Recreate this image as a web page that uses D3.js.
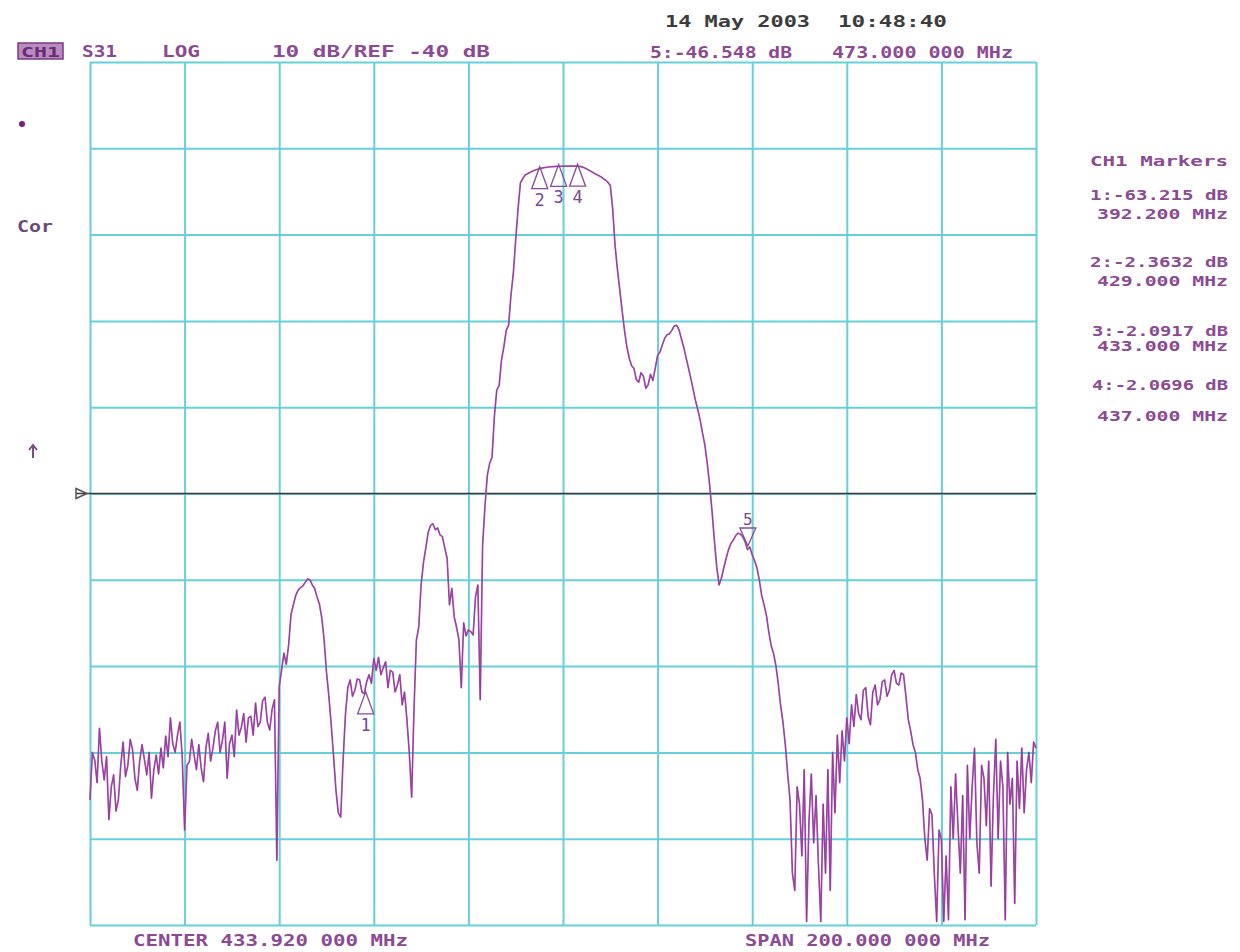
<!DOCTYPE html>
<html>
<head>
<meta charset="utf-8">
<script src="https://cdn.jsdelivr.net/npm/d3@7"></script>
<style>
html,body{margin:0;padding:0;background:#fff;}
svg{display:block;}
text{font-family:"DejaVu Sans Mono","Liberation Mono",monospace;font-weight:bold;}
</style>
</head>
<body>
<svg id="chart" width="1240" height="952"></svg>
<script>
// ---- instrument settings ----
const centerMHz = 433.92;
const spanMHz = 200;
const refLevelDb = -40;
const dbPerDiv = 10;
const xDivisions = [0,1,2,3,4,5,6,7,8,9,10];
const yDivisions = [0,1,2,3,4,5,6,7,8,9,10];
const sweepStepMHz = 0.5;   // 401-point sweep

// ---- trace (S31, dB), one value per sweep point from start to stop ----
const traceDb = [
 -75.5,-70.0,-70.9,-73.5,-67.2,-71.0,-73.2,-70.5,-77.8,-74.0,
 -72.6,-76.8,-75.5,-71.5,-68.8,-72.8,-71.5,-68.5,-69.7,-73.0,
 -74.4,-71.0,-69.1,-70.8,-72.6,-70.0,-75.3,-72.0,-70.3,-72.5,
 -69.5,-71.8,-68.1,-70.5,-66.0,-69.0,-70.0,-68.0,-66.5,-70.5,
 -79.0,-71.5,-71.1,-68.5,-70.3,-72.0,-69.1,-71.8,-73.4,-69.5,
 -67.8,-71.0,-69.5,-67.5,-66.5,-70.0,-68.6,-66.5,-73.0,-69.0,
 -68.0,-70.5,-65.1,-68.0,-67.1,-65.5,-68.8,-66.0,-65.8,-68.0,
 -64.3,-67.0,-66.5,-64.0,-63.6,-66.5,-67.4,-65.0,-63.9,-82.5,
 -62.4,-60.5,-58.5,-59.8,-57.5,-54.0,-52.9,-51.8,-51.2,-50.9,
 -50.7,-50.3,-49.9,-50.0,-50.6,-51.0,-52.0,-52.8,-54.4,-57.0,
 -60.7,-63.5,-66.8,-70.5,-74.4,-77.0,-77.5,-71.0,-65.7,-62.5,
 -61.6,-63.5,-62.8,-61.5,-61.6,-63.0,-63.2,-61.8,-61.0,-62.0,
 -59.1,-60.5,-59.0,-61.0,-60.2,-59.5,-62.5,-60.5,-60.7,-63.0,
 -62.2,-61.0,-64.5,-63.0,-66.2,-70.0,-75.2,-65.0,-57.0,-55.5,
 -50.6,-48.0,-46.3,-44.5,-43.7,-43.5,-44.2,-44.0,-44.8,-45.0,
 -46.3,-47.5,-52.9,-51.0,-54.3,-55.5,-57.0,-62.5,-55.0,-56.5,
 -55.8,-56.0,-56.4,-52.0,-50.6,-63.9,-46.0,-41.5,-37.9,-36.5,
 -35.8,-31.0,-28.0,-27.5,-24.5,-23.0,-21.1,-20.5,-17.0,-14.5,
 -10.6,-7.0,-4.0,-3.5,-3.1,-2.95,-2.8,-2.67,-2.55,-2.45,
 -2.36,-2.3,-2.25,-2.2,-2.17,-2.14,-2.12,-2.1,-2.09,-2.08,
 -2.07,-2.06,-2.06,-2.06,-2.06,-2.06,-2.07,-2.1,-2.15,-2.25,
 -2.4,-2.55,-2.7,-2.85,-3.0,-3.15,-3.3,-3.5,-3.7,-3.95,
 -4.3,-7.0,-11.2,-14.0,-16.4,-18.8,-21.1,-23.0,-24.3,-25.2,
 -25.5,-26.8,-27.1,-26.0,-26.4,-27.8,-27.4,-26.2,-26.9,-25.5,
 -24.0,-23.6,-22.8,-22.0,-21.6,-21.5,-21.1,-20.6,-20.5,-21.0,
 -22.0,-23.0,-24.2,-25.4,-26.6,-27.9,-29.2,-30.3,-31.5,-33.0,
 -34.4,-36.5,-39.0,-42.0,-45.4,-48.5,-50.6,-49.8,-48.6,-47.5,
 -46.5,-45.8,-45.4,-44.9,-44.6,-44.7,-45.0,-45.6,-46.5,-46.2,
 -47.1,-47.8,-48.6,-50.0,-51.8,-52.9,-54.1,-56.0,-57.6,-58.5,
 -59.9,-62.0,-64.5,-66.5,-69.1,-72.5,-75.5,-84.0,-86.0,-74.0,
 -76.0,-82.0,-72.0,-89.6,-78.0,-72.5,-80.5,-75.0,-83.0,-89.6,
 -76.0,-84.0,-72.0,-86.0,-70.0,-77.0,-68.0,-73.5,-67.5,-71.0,
 -66.0,-69.0,-64.5,-67.0,-63.3,-65.5,-66.2,-62.8,-62.5,-65.8,
 -66.8,-63.0,-62.2,-64.5,-63.9,-61.8,-61.6,-63.5,-62.8,-61.0,
 -60.5,-62.0,-62.2,-60.8,-61.0,-63.5,-66.2,-67.5,-69.1,-70.0,
 -72.0,-73.0,-75.5,-80.0,-82.5,-76.5,-77.2,-84.0,-89.6,-79.0,
 -80.1,-89.6,-82.0,-89.4,-74.0,-80.0,-72.5,-78.5,-84.0,-75.0,
 -89.4,-71.5,-80.0,-74.0,-69.5,-80.5,-84.0,-71.5,-73.0,-78.5,
 -71.0,-85.5,-75.0,-68.5,-80.0,-71.0,-74.0,-89.4,-70.0,-76.0,
 -73.0,-87.5,-71.0,-76.5,-69.5,-77.0,-72.0,-70.0,-73.5,-68.8,
 -69.5
];

// ---- markers ----
const markerIds = ["1","2","3","4","5"];
const markerFreqs = [392.2, 429.0, 433.0, 437.0, 473.0];
const markerDbs = [-63.215, -2.3632, -2.0917, -2.0696, -46.548];

// ---- text labels ----
const markerTable = [
  ["CH1 Markers"],
  ["1:-63.215 dB","392.200 MHz"],
  ["2:-2.3632 dB","429.000 MHz"],
  ["3:-2.0917 dB","433.000 MHz"],
  ["4:-2.0696 dB","437.000 MHz"]
];

const startMHz = centerMHz - spanMHz/2;
const stopMHz = centerMHz + spanMHz/2;
const topDb = refLevelDb + 5*dbPerDiv;
const bottomDb = refLevelDb - 5*dbPerDiv;

const L = 90, R = 1036, T = 62, B = 925;
const svg = d3.select("#chart");
const x = d3.scaleLinear().domain([startMHz, stopMHz]).range([L, R]);
const y = d3.scaleLinear().domain([bottomDb, topDb]).range([B, T]);

const gridColor = "#66d0d8";
const purple = "#8c4a94";

// grid via axes
const xTicks = xDivisions.map(d => startMHz + d*spanMHz/10);
const yTicks = yDivisions.map(d => bottomDb + d*dbPerDiv);
const gx = svg.append("g").attr("transform",`translate(0,${B})`)
  .call(d3.axisBottom(x).tickValues(xTicks).tickSize(-(B-T)).tickFormat(""));
const gy = svg.append("g").attr("transform",`translate(${L},0)`)
  .call(d3.axisLeft(y).tickValues(yTicks).tickSize(-(R-L)).tickFormat(""));
[gx,gy].forEach(g=>{
  g.select(".domain").remove();
  g.selectAll(".tick line").attr("stroke",gridColor).attr("stroke-width",2);
});

// reference line
svg.append("line").attr("x1",76).attr("x2",R).attr("y1",y(refLevelDb)).attr("y2",y(refLevelDb))
  .attr("stroke","#3a3a3a").attr("stroke-width",1.6);
svg.append("path")
  .attr("d",`M${76},${y(refLevelDb)-5} L${87},${y(refLevelDb)} L${76},${y(refLevelDb)+5} Z`)
  .attr("fill","none").attr("stroke","#555").attr("stroke-width",1.5);

// trace
const pts = traceDb.map((v,i)=>[startMHz + i*sweepStepMHz, v]);
const line = d3.line().x(d=>x(d[0])).y(d=>y(Math.max(bottomDb,d[1])));
svg.append("path").datum(pts).attr("d",line)
  .attr("fill","none").attr("stroke","#a458ac").attr("stroke-width",1.7)
  .attr("stroke-linejoin","round");
svg.append("path").datum(pts).attr("d",line)
  .attr("fill","none").attr("stroke","#8a1a94").attr("stroke-width",0.7).attr("opacity",0.6);

// markers
markerIds.forEach((id,k)=>{
  const mx = x(markerFreqs[k]), my = y(markerDbs[k]);
  const g = svg.append("g").attr("stroke","#8a4a9a").attr("fill","none").attr("stroke-width",1.3);
  if (id === "5") {
    g.append("path").attr("d",`M${mx-8},${my-22} L${mx+8},${my-22} L${mx},${my-4} Z`);
    svg.append("text").attr("x",mx).attr("y",my-25).attr("text-anchor","middle")
      .attr("font-size",16).attr("fill","#7a4a9a").style("font-weight","normal").text(id);
  } else {
    g.append("path").attr("d",`M${mx},${my-2} L${mx+8},${my+20} L${mx-8},${my+20} Z`);
    svg.append("text").attr("x",mx).attr("y",my+37).attr("text-anchor","middle")
      .attr("font-size",17).attr("fill","#7a4a9a").style("font-weight","normal").text(id);
  }
});

// helper for fitted text
function txt(s, x0, base, w, size, color, anchor){
  const t = svg.append("text").attr("x",x0).attr("y",base).attr("font-size",size)
    .attr("fill",color).text(s);
  if (anchor) t.attr("text-anchor",anchor);
  if (w) t.attr("textLength",w).attr("lengthAdjust","spacingAndGlyphs");
  return t;
}

// header
svg.append("rect").attr("x",18).attr("y",43).attr("width",45).attr("height",16)
  .attr("fill","#b98cc0").attr("stroke","#7a3a84").attr("stroke-width",1.5);
txt("CH1",21,57,39,14,"#6a2a74");
txt("S31",82,57,35,15,purple);
txt("LOG",162,57,38,15,purple);
txt("10 dB/REF -40 dB",272,57,218,15,purple);
txt("14 May 2003",665,27,145,15,"#3c3c3c");
txt("10:48:40",838,27,109,15,"#3c3c3c");
txt("5:-46.548 dB",650,58,142,15,purple);
txt("473.000 000 MHz",832,58,181,15,purple);

// left annotations
svg.append("circle").attr("cx",22).attr("cy",124).attr("r",3).attr("fill","#7a1a84");
txt("Cor",17,232,36,15,"#6a4a74");
svg.append("path").attr("d","M33,445 L33,458 M29,450 L33,445 L37,450")
  .attr("fill","none").attr("stroke","#7a4a84").attr("stroke-width",2);

// bottom
txt("CENTER 433.920 000 MHz",133,946,275,15,purple);
txt("SPAN 200.000 000 MHz",745,946,245,15,purple);

// right marker table
const rowBase = [[166],[200,219],[267,286],[336,351],[390,421]];
const rowStart = [[1090],[1090,1097],[1090,1097],[1092,1097],[1092,1097]];
markerTable.forEach((row,r)=>{
  row.forEach((s,c)=>{
    txt(s, rowStart[r][c], rowBase[r][c], 1228-rowStart[r][c], 14, purple);
  });
});
</script>
</body>
</html>
